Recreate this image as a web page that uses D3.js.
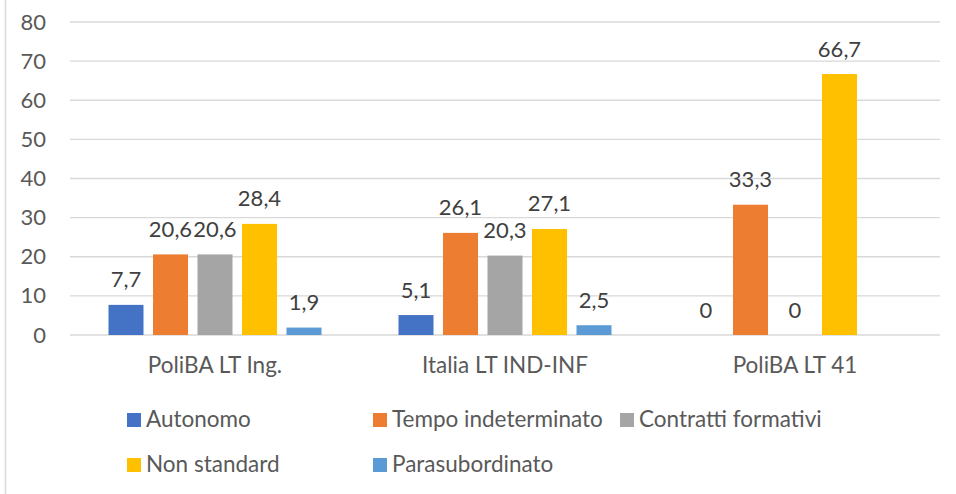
<!DOCTYPE html>
<html><head><meta charset="utf-8">
<script src="https://cdn.jsdelivr.net/npm/d3@7"></script>
<style>body{margin:0;background:#fff}svg{display:block;font-family:Lato,"Open Sans",sans-serif}</style>
</head><body><svg id="c" width="956" height="494"></svg>
<script>
const categories = ["PoliBA LT Ing.", "Italia LT IND-INF", "PoliBA LT 41"];
const seriesNames = ["Autonomo", "Tempo indeterminato", "Contratti formativi", "Non standard", "Parasubordinato"];
const seriesColors = ["#4472c4", "#ed7d31", "#a5a5a5", "#ffc000", "#5b9bd5"];
const autonomo = [7.7, 5.1, 0];
const tempoIndeterminato = [20.6, 26.1, 33.3];
const contrattiFormativi = [20.6, 20.3, 0];
const nonStandard = [28.4, 27.1, 66.7];
const parasubordinato = [1.9, 2.5, null];
const yTicks = [0, 10, 20, 30, 40, 50, 60, 70, 80];

const seriesValues = [autonomo, tempoIndeterminato, contrattiFormativi, nonStandard, parasubordinato];
const svg = d3.select("#c");
const L = 70, R = 940, T = 22, B = 335;
const FS = "22px", FL = "22.5px";
const FF = "Lato,'Open Sans',sans-serif";
const x = d3.scaleBand().domain(categories).range([L, R]).paddingInner(0).paddingOuter(0);
const y = d3.scaleLinear().domain([0, 80]).range([B, T]);
const step = 44.5, bw = 35;
const xs = d3.scaleLinear().domain([0, 4]).range([-2 * step, 2 * step]);

// border
svg.append("line").attr("x1", 5.5).attr("x2", 5.5).attr("y1", 0).attr("y2", 494)
  .attr("stroke", "#d9d9d9").attr("stroke-width", 1.5);

// gridlines
svg.append("g").selectAll("line").data(yTicks).join("line")
  .attr("x1", L).attr("x2", R).attr("y1", d => y(d)).attr("y2", d => y(d))
  .attr("stroke", "#d9d9d9").attr("stroke-width", 1.3);

// y axis
const ya = svg.append("g").attr("transform", `translate(${L - 24},0)`)
  .call(d3.axisLeft(y).tickValues(yTicks).tickSize(0).tickPadding(0));
ya.select(".domain").remove();
ya.selectAll("text").attr("fill", "#595959").style("font-size", FS).style("font-family", FF);

// x axis
const xa = svg.append("g").attr("transform", `translate(0,${B})`)
  .call(d3.axisBottom(x).tickSize(0).tickPadding(0));
xa.select(".domain").remove();
xa.selectAll("text").attr("fill", "#595959").style("font-size", FL).style("font-family", FF)
  .attr("y", 38).attr("dy", null);

const fmt = v => String(v).replace(".", ",");
seriesValues.forEach((vals, si) => {
  const g = svg.append("g");
  const data = categories.map((c, i) => ({c, v: vals[i]})).filter(d => d.v !== null);
  g.selectAll("rect").data(data).join("rect")
    .attr("x", d => x(d.c) + x.bandwidth() / 2 + xs(si) - bw / 2)
    .attr("width", bw)
    .attr("y", d => y(d.v)).attr("height", d => B - y(d.v))
    .attr("fill", seriesColors[si]);
  g.selectAll("text").data(data).join("text")
    .attr("x", d => x(d.c) + x.bandwidth() / 2 + xs(si))
    .attr("y", d => y(d.v) - 17.5)
    .attr("text-anchor", "middle").attr("fill", "#404040")
    .style("font-size", FS)
    .text(d => fmt(d.v));
});

// legend
const legPos = [[127, 427], [373, 427], [620, 427], [127, 472], [373, 472]];
seriesNames.forEach((n, i) => {
  const [lx, ly] = legPos[i];
  svg.append("rect").attr("x", lx).attr("y", ly - 14).attr("width", 14).attr("height", 14).attr("fill", seriesColors[i]);
  svg.append("text").attr("x", lx + 19).attr("y", ly)
    .attr("fill", "#595959").style("font-size", FL).text(n);
});
</script></body></html>
